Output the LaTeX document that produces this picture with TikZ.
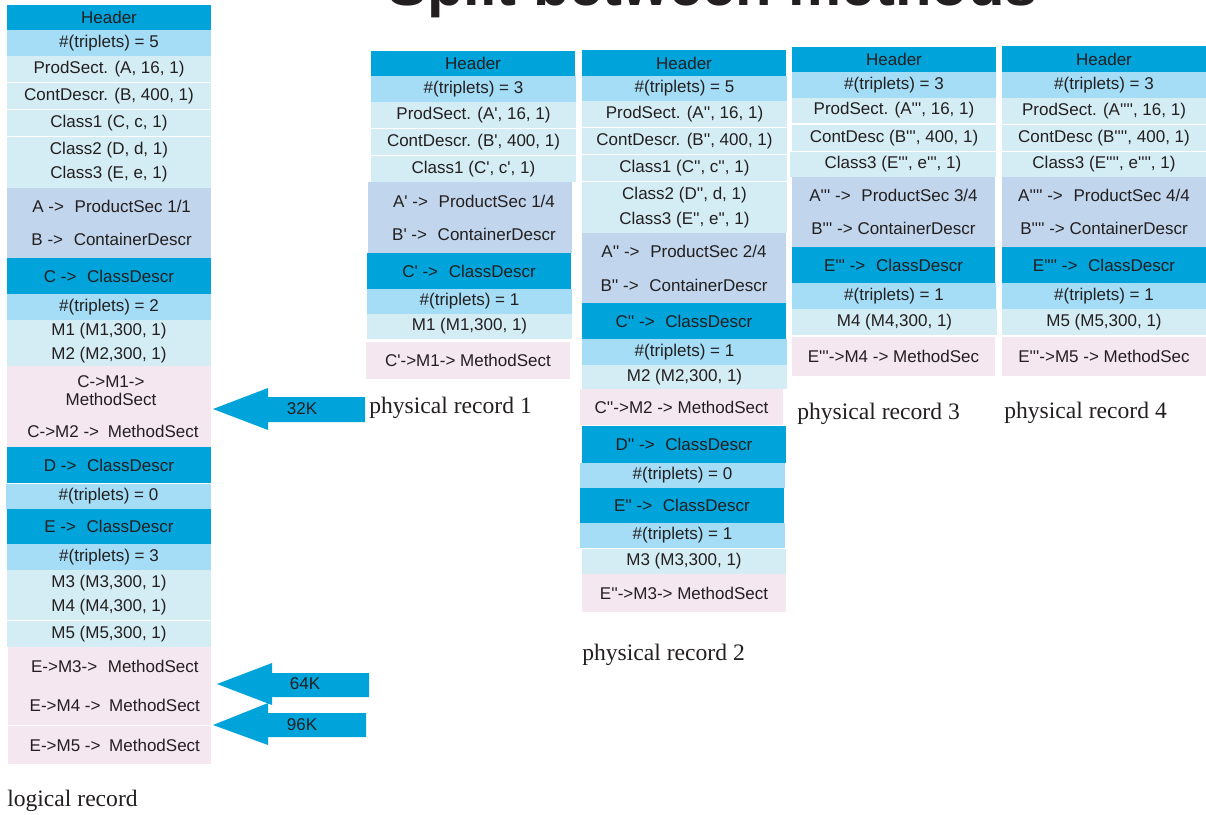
\documentclass[tikz,border=0pt]{standalone}
\usepackage{fontspec}
\newfontfamily\bxfont{Liberation Sans}
\newfontfamily\serfont{Liberation Serif}
\definecolor{dkb}{HTML}{00A3DA}
\definecolor{ltb}{HTML}{A4DDF5}
\definecolor{pal}{HTML}{D4EDF4}
\definecolor{lav}{HTML}{C1D6EC}
\definecolor{pnk}{HTML}{F5E7F0}
\definecolor{txt}{HTML}{231F20}
\newcommand\g{\hspace{8pt}}
\newcommand\bx[7]{\node[rowbox,fill=#6,minimum width={0.75pt*(#4-#2)},minimum height={0.75pt*(#5-#3)}] (#1) at ({(#2+#4)/2},{(#3+#5)/2}) {#7};}
\tikzset{
  rowbox/.style={inner sep=0pt,outer sep=0pt,draw=none,align=center,text=txt,font=\bxfont\fontsize{12.75}{18}\selectfont},
  lbl/.style={inner sep=0pt,text=txt,font=\bxfont\fontsize{12.75}{18}\selectfont},
  reclabel/.style={inner sep=0pt,anchor=base west,text=txt,font=\serfont\fontsize{17.7}{20}\selectfont},
  blockarrow/.style={fill=dkb}
}
\begin{document}
\begin{tikzpicture}[x=0.75pt,y=-0.75pt]
\useasboundingbox (0,0) rectangle (1206,814);
\clip (0,0) rectangle (1206,814);
% title (cut off at top)
\node[inner sep=0pt,anchor=base west,text=txt,font=\bxfont\bfseries\fontsize{44.8}{50}\selectfont] (title) at (387,5) {Split between methods};
% ---------- logical record ----------
\bx{l1}{7}{5}{211}{30}{dkb}{Header}
\bx{l2}{7}{30}{211}{56}{ltb}{\#(triplets) = 5}
\bx{l3}{7}{56}{211}{82}{pal}{ProdSect. (A, 16, 1)}
\bx{l4}{7}{83}{211}{109}{pal}{ContDescr. (B, 400, 1)}
\bx{l5}{7}{110}{211}{136}{pal}{Class1 (C, c, 1)}
\bx{l6}{7}{137}{211}{188}{pal}{Class2 (D, d, 1)\\Class3 (E, e, 1)}
\bx{l7}{7}{188}{211}{258}{lav}{\hspace{4pt}A ->\g ProductSec 1/1\\[6.75pt]\hspace{4pt}B ->\g ContainerDescr}
\bx{l8}{7}{258}{211}{294}{dkb}{C ->\g ClassDescr}
\bx{l9}{7}{294}{211}{320}{ltb}{\#(triplets) = 2}
\bx{l10}{7}{320}{211}{366}{pal}{M1 (M1,300, 1)\\M2 (M2,300, 1)}
\bx{l11}{7}{366}{211}{447}{pnk}{}
\node[lbl] (l11a) at (111,382) {C->M1->};
\node[lbl] (l11b) at (111,399) {MethodSect};
\node[lbl] (l11c) at (113,431) {C->M2 ->\hspace{3pt} MethodSect};
\bx{l12}{7}{447}{211}{483}{dkb}{D ->\g ClassDescr}
\bx{l13}{6}{484}{211}{509}{ltb}{\#(triplets) = 0}
\bx{l14}{7}{509}{211}{544}{dkb}{E ->\g ClassDescr}
\bx{l15}{7}{544}{211}{570}{ltb}{\#(triplets) = 3}
\bx{l16}{7}{570}{211}{620}{pal}{M3 (M3,300, 1)\\M4 (M4,300, 1)}
\bx{l17}{7}{621}{211}{647}{pal}{M5 (M5,300, 1)}
\bx{l18}{8}{647}{211}{686}{pnk}{\hspace{8pt}E->M3->\g MethodSect}
\bx{l19}{8}{686}{211}{725}{pnk}{\hspace{8pt}E->M4 ->\hspace{3pt} MethodSect}
\bx{l20}{8}{726}{211}{764}{pnk}{\hspace{8pt}E->M5 ->\hspace{3pt} MethodSect}
\node[reclabel] (lrec) at (7,806) {logical record};
% ---------- physical record 1 ----------
\bx{p1a}{371}{51}{575}{76}{dkb}{Header}
\bx{p1b}{371}{76}{576}{102}{ltb}{\#(triplets) = 3}
\bx{p1c}{371}{102}{576}{128}{pal}{ProdSect. (A', 16, 1)}
\bx{p1d}{371}{129}{576}{155}{pal}{ContDescr. (B', 400, 1)}
\bx{p1e}{371}{156}{576}{182}{pal}{Class1 (C', c', 1)}
\bx{p1f}{368}{182}{572}{253}{lav}{\hspace{6pt}A' ->\g ProductSec 1/4\\[6.75pt]\hspace{6pt}B' ->\g ContainerDescr}
\bx{p1g}{367}{253}{571}{289}{dkb}{C' ->\g ClassDescr}
\bx{p1h}{367}{289}{572}{314}{ltb}{\#(triplets) = 1}
\bx{p1i}{367}{314}{572}{339}{pal}{M1 (M1,300, 1)}
\bx{p1j}{366}{342}{570}{379}{pnk}{C'->M1-> MethodSect}
\node[reclabel] (prec1) at (369,413) {physical record 1};
% ---------- physical record 2 ----------
\bx{p2a}{582}{50}{786}{76}{dkb}{Header}
\bx{p2b}{582}{76}{787}{101}{ltb}{\#(triplets) = 5}
\bx{p2c}{582}{101}{787}{127}{pal}{ProdSect. (A'', 16, 1)}
\bx{p2d}{582}{128}{787}{154}{pal}{ContDescr. (B'', 400, 1)}
\bx{p2e}{582}{155}{787}{181}{pal}{Class1 (C'', c'', 1)}
\bx{p2f}{582}{182}{787}{233}{pal}{Class2 (D'', d, 1)\\[0.75pt]Class3 (E'', e'', 1)}
\bx{p2g}{582}{233}{786}{303}{lav}{A'' ->\g ProductSec 2/4\\[7.5pt]B'' ->\g ContainerDescr}
\bx{p2h}{582}{303}{786}{339}{dkb}{C'' ->\g ClassDescr}
\bx{p2i}{582}{339}{787}{365}{ltb}{\#(triplets) = 1}
\bx{p2j}{582}{365}{787}{389}{pal}{M2 (M2,300, 1)}
\bx{p2k}{580}{389}{783}{425}{pnk}{C''->M2 -> MethodSect}
\bx{p2l}{582}{426}{786}{463}{dkb}{D'' ->\g ClassDescr}
\bx{p2m}{580}{463}{785}{488}{ltb}{\#(triplets) = 0}
\bx{p2n}{580}{488}{784}{523}{dkb}{E'' ->\g ClassDescr}
\bx{p2o}{580}{523}{785}{548}{ltb}{\#(triplets) = 1}
\bx{p2p}{582}{549}{786}{574}{pal}{M3 (M3,300, 1)}
\bx{p2q}{582}{574}{786}{612}{pnk}{E''->M3-> MethodSect}
\node[reclabel] (prec2) at (582,660) {physical record 2};
% ---------- physical record 3 ----------
\bx{p3a}{792}{47}{996}{72}{dkb}{Header}
\bx{p3b}{792}{72}{996}{98}{ltb}{\#(triplets) = 3}
\bx{p3c}{792}{98}{996}{123}{pal}{ProdSect. (A''', 16, 1)}
\bx{p3d}{792}{125}{996}{151}{pal}{ContDesc (B''', 400, 1)}
\bx{p3e}{790}{152}{996}{177}{pal}{Class3 (E''', e''', 1)}
\bx{p3f}{792}{177}{995}{247}{lav}{A''' ->\g ProductSec 3/4\\[6.75pt]B''' -> ContainerDescr}
\bx{p3g}{792}{247}{995}{283}{dkb}{E''' ->\g ClassDescr}
\bx{p3h}{792}{283}{996}{309}{ltb}{\#(triplets) = 1}
\bx{p3i}{792}{309}{997}{335}{pal}{M4 (M4,300, 1)}
\bx{p3j}{792}{337}{995}{376}{pnk}{E'''->M4 -> MethodSec}
\node[reclabel] (prec3) at (797,419) {physical record 3};
% ---------- physical record 4 ----------
\bx{p4a}{1002}{46}{1206}{72}{dkb}{Header}
\bx{p4b}{1002}{72}{1206}{98}{ltb}{\#(triplets) = 3}
\bx{p4c}{1002}{98}{1206}{124}{pal}{ProdSect. (A'''', 16, 1)}
\bx{p4d}{1002}{125}{1206}{151}{pal}{ContDesc (B'''', 400, 1)}
\bx{p4e}{1002}{152}{1206}{177}{pal}{Class3 (E'''', e'''', 1)}
\bx{p4f}{1002}{177}{1206}{247}{lav}{A'''' ->\g ProductSec 4/4\\[6.75pt]B'''' -> ContainerDescr}
\bx{p4g}{1002}{247}{1206}{283}{dkb}{E'''' ->\g ClassDescr}
\bx{p4h}{1002}{283}{1206}{309}{ltb}{\#(triplets) = 1}
\bx{p4i}{1002}{309}{1206}{335}{pal}{M5 (M5,300, 1)}
\bx{p4j}{1002}{337}{1206}{376}{pnk}{E'''->M5 -> MethodSec}
\node[reclabel] (prec4) at (1004,418) {physical record 4};
% ---------- block arrows ----------
\fill[blockarrow] (365,397) -- (268,397) -- (268,388) -- (213,409) -- (268,430) -- (268,422) -- (365,422) -- cycle;
\node[lbl] (k32) at (302,409) {32K};
\fill[blockarrow] (369,673) -- (272,673) -- (272,663) -- (217,684) -- (272,705) -- (272,697) -- (369,697) -- cycle;
\node[lbl] (k64) at (305,684) {64K};
\fill[blockarrow] (366,713) -- (268,713) -- (268,703) -- (213,725) -- (268,745) -- (268,737) -- (366,737) -- cycle;
\node[lbl] (k96) at (302,725) {96K};
\end{tikzpicture}
\end{document}
